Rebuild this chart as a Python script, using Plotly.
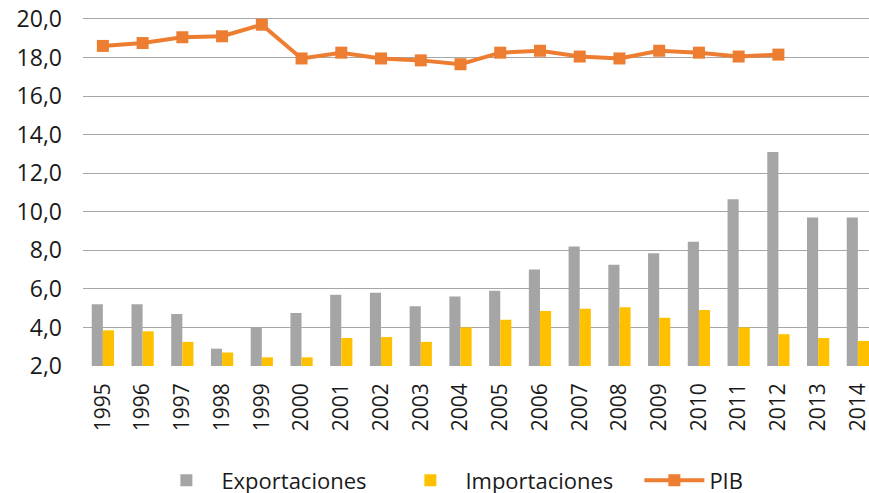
import plotly.graph_objects as go

years = [str(y) for y in range(1995, 2015)]
exportaciones = [5.2, 5.2, 4.7, 2.9, 4.0, 4.75, 5.7, 5.8, 5.1, 5.6,
                 5.9, 7.0, 8.2, 7.25, 7.85, 8.45, 10.65, 13.1, 9.7, 9.7]
importaciones = [3.85, 3.8, 3.25, 2.7, 2.45, 2.45, 3.45, 3.5, 3.25, 4.0,
                 4.4, 4.85, 4.97, 5.05, 4.5, 4.9, 4.0, 3.65, 3.45, 3.3]
pib = [18.6, 18.75, 19.05, 19.1, 19.7, 17.95, 18.25, 17.95, 17.85, 17.65,
       18.25, 18.35, 18.05, 17.95, 18.35, 18.25, 18.05, 18.15]

gray = "#a5a5a5"
gold = "#ffc000"
orange = "#ed7d31"
font_family = "Open Sans, Liberation Sans, sans-serif"

fig = go.Figure()
fig.add_trace(
    go.Bar(
        x=years,
        y=exportaciones,
        base=0,
        name="Exportaciones",
        marker=dict(color=gray, line=dict(width=0)),
    )
)
fig.add_trace(
    go.Bar(
        x=years,
        y=importaciones,
        base=0,
        name="Importaciones",
        marker=dict(color=gold, line=dict(width=0)),
    )
)
fig.add_trace(
    go.Scatter(
        x=years[: len(pib)],
        y=pib,
        mode="lines+markers",
        name="PIB",
        line=dict(color=orange, width=4),
        marker=dict(symbol="square", size=12, color=orange),
    )
)

fig.update_layout(
    width=869,
    height=493,
    margin=dict(l=83, r=0, t=17, b=127, autoexpand=False),
    paper_bgcolor="white",
    plot_bgcolor="white",
    separators=",.",
    barmode="group",
    bargap=0.44,
    bargroupgap=0,
    font=dict(family=font_family, size=20, color="#1a1a1a"),
    showlegend=True,
    legend=dict(
        orientation="h",
        x=0.087,
        xanchor="left",
        y=-0.268,
        yanchor="top",
        font=dict(size=22, color="#1a1a1a"),
        itemwidth=60,
        entrywidth=169,
        traceorder="normal",
    ),
    xaxis=dict(
        type="category",
        range=[-0.5, 19.28],
        tickangle=-90,
        tickfont=dict(size=21),
        showgrid=False,
        showline=False,
        ticks="",
        ticklabelstandoff=12,
        ticklabeloverflow="allow",
        automargin=False,
    ),
    yaxis=dict(
        # a little headroom so plotly keeps the 20,0 gridline
        range=[2, 20.1],
        dtick=2,
        tickformat=".1f",
        tickfont=dict(size=23),
        showgrid=True,
        gridcolor="#a6a6a6",
        gridwidth=1.3,
        zeroline=False,
        showline=False,
        ticks="",
        ticklabelstandoff=20,
        ticklabeloverflow="allow",
        automargin=False,
    ),
)

# drop the default body margin so the figure fills the window exactly
fig.write_html(
    "out.html",
    config={"displayModeBar": False},
    post_script="document.body.style.margin='0';document.body.style.overflow='hidden';",
)
